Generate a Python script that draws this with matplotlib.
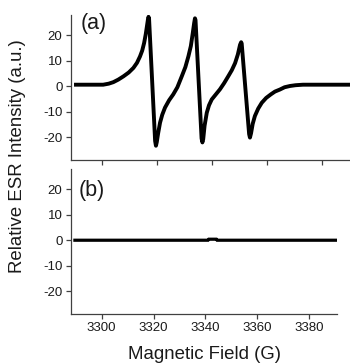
import matplotlib
matplotlib.use("Agg")
import matplotlib.pyplot as plt

plt.rcParams['font.family'] = ['Liberation Sans', 'DejaVu Sans']
plt.rcParams['axes.unicode_minus'] = False

# Spectrum (a): magnetic field (G) and relative ESR intensity (a.u.)
field_a = [3289.9, 3300.5, 3302.5, 3304.2, 3306.0, 3307.9, 3309.8, 3311.5, 3312.8, 3313.9,
           3314.7, 3315.4, 3316.0, 3316.4, 3316.8, 3317.0, 3317.2, 3319.4, 3319.7, 3320.0,
           3320.5, 3321.2, 3322.0, 3323.0, 3324.5, 3326.0, 3327.5, 3329.1, 3330.4, 3331.5,
           3332.4, 3333.1, 3333.6, 3333.9, 3334.1, 3336.3, 3336.6, 3336.9, 3337.4, 3338.2,
           3339.0, 3340.0, 3341.5, 3343.0, 3344.5, 3346.0, 3347.3, 3348.5, 3349.5, 3350.3,
           3350.7, 3350.9, 3353.6, 3353.9, 3354.3, 3354.9, 3355.7, 3356.9, 3358.2, 3359.8,
           3361.5, 3363.0, 3364.8, 3366.5, 3368.5, 3370.5, 3373.2, 3390.3]
intensity_a = [0.6, 0.6, 1.0, 1.6, 2.6, 3.9, 5.4, 7.2, 9.2, 11.7,
               14.0, 17.0, 20.5, 23.4, 26.3, 27.3, 26.5, -21.5, -23.4, -22.0,
               -18.5, -14.3, -11.2, -8.4, -5.5, -3.2, -0.4, 3.9, 7.5, 11.7,
               15.8, 20.9, 24.8, 26.7, 26.0, -20.5, -22.1, -20.8, -15.5, -10.4,
               -7.5, -5.2, -3.2, -1.2, 1.2, 3.9, 6.3, 9.1, 12.5, 16.3,
               17.3, 16.8, -18.8, -20.2, -18.5, -14.8, -11.7, -8.8, -6.5, -4.6,
               -3.2, -2.1, -1.3, -0.4, 0.1, 0.4, 0.6, 0.6]

# Spectrum (b)
field_b = [3289.7, 3341.0, 3341.3, 3344.2, 3344.5, 3390.6]
intensity_b = [0.0, 0.0, 0.4, 0.4, 0.0, 0.0]

x_ticks = [3300, 3320, 3340, 3360, 3380]
y_ticks = [-20, -10, 0, 10, 20]
panel_labels = ['(a)', '(b)']

W, H = 350, 364
fig = plt.figure(figsize=(W / 100, H / 100), dpi=100)
ax_a = fig.add_axes([71 / W, 1 - 160 / H, 279 / W, 145 / H])
ax_b = fig.add_axes([71 / W, 1 - 314 / H, 266 / W, 145 / H])

spine_col = '#404040'
for ax in (ax_a, ax_b):
    ax.set_ylim(-29, 28)
    for s in ('top', 'right'):
        ax.spines[s].set_visible(False)
    for s in ('left', 'bottom'):
        ax.spines[s].set_color(spine_col)
        ax.spines[s].set_linewidth(0.9)
    ax.set_xticks(x_ticks)
    ax.set_yticks(y_ticks)
    ax.tick_params(direction='out', length=3.6, width=0.9, color=spine_col,
                   labelsize=9.5, labelcolor='#1a1a1a', pad=2.5)
ax_a.set_xlim(3288.8, 3390.3)
ax_b.set_xlim(3288.2, 3390.7)

ax_a.plot(field_a, intensity_a, color='black', lw=2.8, solid_joinstyle='round',
          solid_capstyle='butt')
ax_b.plot(field_b, intensity_b, color='black', lw=2.3, solid_joinstyle='miter')
ax_a.tick_params(axis='x', labelbottom=False)

ax_a.text(0.036, 0.941, panel_labels[0], transform=ax_a.transAxes, fontsize=15.5,
          ha='left', va='center', color='#1a1a1a')
ax_b.text(0.030, 0.855, panel_labels[1], transform=ax_b.transAxes, fontsize=15.5,
          ha='left', va='center', color='#1a1a1a')

ax_b.set_xlabel('Magnetic Field (G)', fontsize=13.4, color='#1a1a1a', labelpad=8)
fig.text(18 / W, 1 - 156.5 / H, 'Relative ESR Intensity (a.u.)', rotation=90,
         ha='center', va='center', fontsize=13.4, color='#1a1a1a')

fig.savefig('out.png', dpi=100)
